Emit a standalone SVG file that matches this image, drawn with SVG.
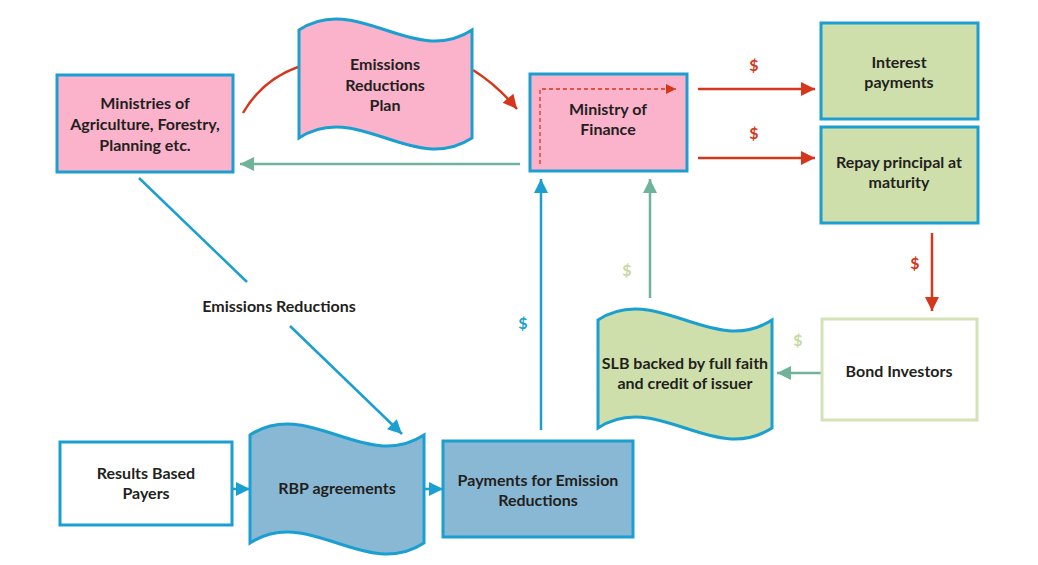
<svg xmlns="http://www.w3.org/2000/svg" width="1038" height="565" viewBox="0 0 1038 565">
<style>
  text { font-family: Lato, "Open Sans", "Liberation Sans", sans-serif; font-weight: bold; font-size: 16px; fill: #231f20; text-anchor: middle; }
  .box { stroke: #1a9fd0; stroke-width: 3; }
  .pink { fill: #fbb3cb; }
  .green { fill: #cfdfab; }
  .steel { fill: #89b8d5; }
  .white { fill: #ffffff; }
  .red { stroke: #d4371c; stroke-width: 2.5; fill: none; }
  .teal { stroke: #6fb39b; stroke-width: 2.5; fill: none; }
  .blue { stroke: #1a9fd0; stroke-width: 2.5; fill: none; }
  .d-red { fill: #d4371c; }
  .d-blue { fill: #1a9fd0; }
  .d-lg { fill: #c6d99e; }
</style>
<defs>
  <marker id="mRed" viewBox="0 0 10 10" refX="10" refY="5" markerWidth="16" markerHeight="14" markerUnits="userSpaceOnUse" orient="auto"><path d="M0,0 L10,5 L0,10 z" fill="#d4371c"/></marker>
  <marker id="mRedS" viewBox="0 0 10 10" refX="10" refY="5" markerWidth="13" markerHeight="10" markerUnits="userSpaceOnUse" orient="auto"><path d="M0,0 L10,5 L0,10 z" fill="#d4371c"/></marker>
  <marker id="mTeal" viewBox="0 0 10 10" refX="10" refY="5" markerWidth="16" markerHeight="14" markerUnits="userSpaceOnUse" orient="auto"><path d="M0,0 L10,5 L0,10 z" fill="#6fb39b"/></marker>
  <marker id="mBlue" viewBox="0 0 10 10" refX="10" refY="5" markerWidth="16" markerHeight="14" markerUnits="userSpaceOnUse" orient="auto"><path d="M0,0 L10,5 L0,10 z" fill="#1a9fd0"/></marker>
</defs>

<g id="connectors">
  <path class="red" d="M243,113 Q262,80 298,67"/>
  <path class="red" d="M473,70 Q497,85 517,109" marker-end="url(#mRed)"/>
  <line class="teal" x1="520" y1="164" x2="240" y2="164" marker-end="url(#mTeal)"/>
  <line class="red" x1="698" y1="89" x2="815" y2="89" marker-end="url(#mRed)"/>
  <line class="red" x1="698" y1="158" x2="815" y2="158" marker-end="url(#mRed)"/>
  <line class="red" x1="932" y1="233" x2="932" y2="311" marker-end="url(#mRed)"/>
  <line class="teal" x1="821" y1="373" x2="777" y2="373" marker-end="url(#mTeal)"/>
  <line class="teal" x1="650" y1="298" x2="650" y2="179" marker-end="url(#mTeal)"/>
  <line class="blue" x1="541" y1="430" x2="541" y2="179" marker-end="url(#mBlue)"/>
  <line class="blue" x1="139" y1="178" x2="247" y2="282"/>
  <line class="blue" x1="290" y1="326" x2="402" y2="434" marker-end="url(#mBlue)"/>
  <line class="blue" x1="233" y1="489" x2="250" y2="489" marker-end="url(#mBlue)"/>
  <line class="blue" x1="424" y1="489" x2="443" y2="489" marker-end="url(#mBlue)"/>
  <text x="754" y="71" class="d-red">$</text>
  <text x="754" y="139" class="d-red">$</text>
  <text x="915" y="269" class="d-red">$</text>
  <text x="798" y="346" class="d-lg">$</text>
  <text x="627" y="276" class="d-lg">$</text>
  <text x="523" y="329" class="d-blue">$</text>
  <text x="279" y="312">Emissions Reductions</text>
</g>

<g id="ministries">
  <rect class="box pink" x="57" y="75" width="176" height="97"/>
  <text x="145" y="109">Ministries of</text>
  <text x="145" y="130">Agriculture, Forestry,</text>
  <text x="145" y="151">Planning etc.</text>
</g>

<g id="erp">
  <path class="box pink" d="M299,30 C357,-8 414,68 472,30 L472,138 C414,176 357,100 299,138 Z"/>
  <text x="385" y="70">Emissions</text>
  <text x="385" y="91">Reductions</text>
  <text x="385" y="111">Plan</text>
</g>

<g id="mof">
  <rect class="box pink" x="530" y="74" width="157" height="97"/>
  <polyline points="540,164 540,89 676,89" fill="none" stroke="#d4371c" stroke-width="1.3" stroke-dasharray="4,3" marker-end="url(#mRedS)"/>
  <text x="608" y="115">Ministry of</text>
  <text x="608" y="135">Finance</text>
</g>

<g id="interest">
  <rect class="box green" x="821" y="23" width="157" height="96"/>
  <text x="899" y="68">Interest</text>
  <text x="899" y="88">payments</text>
</g>

<g id="principal">
  <rect class="box green" x="821" y="127" width="157" height="96"/>
  <text x="899" y="168">Repay principal at</text>
  <text x="899" y="188">maturity</text>
</g>

<g id="bond">
  <rect x="822" y="319" width="155" height="101" fill="#ffffff" stroke="#d3e2b7" stroke-width="3"/>
  <text x="899" y="377">Bond Investors</text>
</g>

<g id="slb">
  <path class="box green" d="M598,320 C656,282 714,358 772,320 L772,428 C714,466 656,390 598,428 Z"/>
  <text x="685" y="369">SLB backed by full faith</text>
  <text x="685" y="389">and credit of issuer</text>
</g>

<g id="rbpayers">
  <rect class="box white" x="60" y="442" width="172" height="83"/>
  <text x="146" y="479">Results Based</text>
  <text x="146" y="499">Payers</text>
</g>

<g id="rbp">
  <path class="box steel" d="M250,435 C308,397 366,473 424,435 L424,543 C366,581 308,505 250,543 Z"/>
  <text x="337" y="494">RBP agreements</text>
</g>

<g id="payments">
  <rect class="box steel" x="443" y="441" width="190" height="96"/>
  <text x="538" y="486">Payments for Emission</text>
  <text x="538" y="506">Reductions</text>
</g>
</svg>
